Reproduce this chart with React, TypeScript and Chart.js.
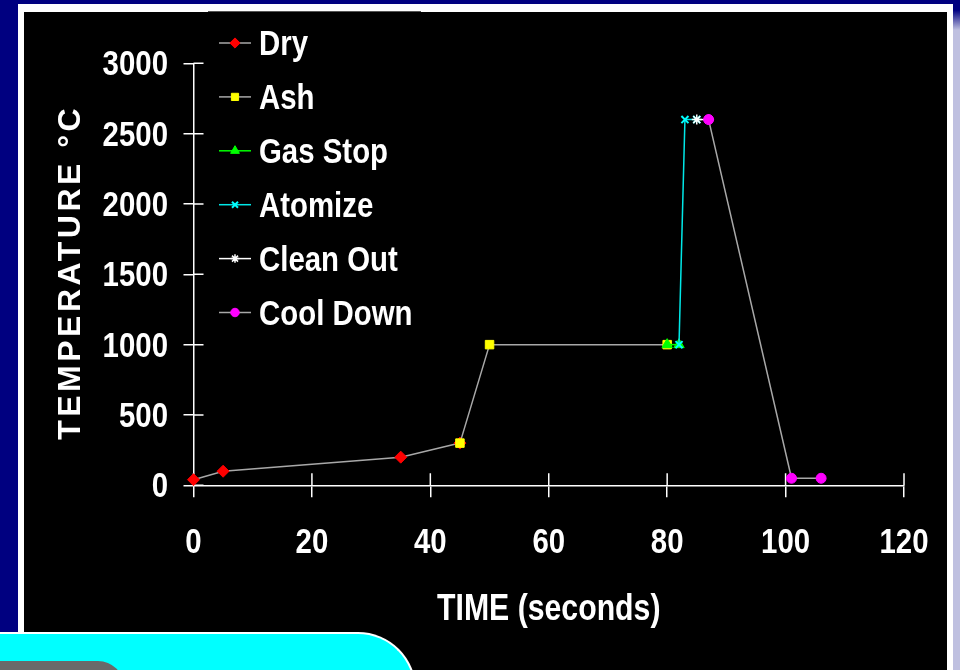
import React, { useEffect, useRef } from 'react';
import { Chart, registerables } from 'chart.js';
import { drawPoint } from 'chart.js/helpers';

Chart.register(...registerables);

// ---- data ----
const seriesNames = ['Dry', 'Ash', 'Gas Stop', 'Atomize', 'Clean Out', 'Cool Down'];
const dryTime = [0, 5, 35, 45];
const dryTemp = [40, 100, 200, 300];
const ashTime = [45, 50, 80];
const ashTemp = [300, 1000, 1000];
const gasStopTime = [80, 82];
const gasStopTemp = [1000, 1000];
const atomizeTime = [82, 83, 85];
const atomizeTemp = [1000, 2600, 2600];
const cleanOutTime = [85, 87];
const cleanOutTemp = [2600, 2600];
const coolDownTime = [87, 101, 106];
const coolDownTemp = [2600, 50, 50];
const xTickValues = [0, 20, 40, 60, 80, 100, 120];
const yTickValues = [0, 500, 1000, 1500, 2000, 2500, 3000];
const xAxisTitle = 'TIME (seconds)';
const yAxisTitle = 'TEMPERATURE °C';

const FONT = "'Liberation Sans', Arial, sans-serif";
const SX = 0.84; // narrow (condensed) look of the original bold face
const GRAY = '#a8a8a8';

const styles = [
  { line: GRAY, fill: '#ff0000', border: '#ff0000', style: 'rectRot', r: 6, bw: 1 },
  { line: GRAY, fill: '#ffff00', border: '#ffff00', style: 'rect', r: 6, bw: 1 },
  { line: '#00ff00', fill: '#00ff00', border: '#00ff00', style: 'triangle', r: 6, bw: 1 },
  { line: '#00e8e8', fill: '#00ffff', border: '#00ffff', style: 'crossRot', r: 5, bw: 2 },
  { line: '#ffffff', fill: '#ffffff', border: '#ffffff', style: 'star', r: 5, bw: 1.5 },
  { line: GRAY, fill: '#ff00ff', border: '#ff00ff', style: 'circle', r: 5, bw: 1 },
];

const xs = [dryTime, ashTime, gasStopTime, atomizeTime, cleanOutTime, coolDownTime];
const ys = [dryTemp, ashTemp, gasStopTemp, atomizeTemp, cleanOutTemp, coolDownTemp];

function narrowText(ctx: CanvasRenderingContext2D, text: string, x: number, y: number, align: CanvasTextAlign, size: number) {
  ctx.save();
  ctx.translate(x, y);
  ctx.scale(SX, 1);
  ctx.font = `bold ${size}px ${FONT}`;
  ctx.fillStyle = '#ffffff';
  ctx.textAlign = align;
  ctx.textBaseline = 'alphabetic';
  ctx.fillText(text, 0, 0);
  ctx.restore();
}

const crossTicks = {
  id: 'crossTicks',
  beforeDatasetsDraw(chart: any) {
    const { ctx, chartArea, scales } = chart;
    ctx.save();
    ctx.strokeStyle = '#ffffff';
    ctx.lineWidth = 1.5;
    ctx.beginPath();
    scales.x.ticks.forEach((t: any) => {
      const px = scales.x.getPixelForValue(t.value);
      ctx.moveTo(px, chartArea.bottom);
      ctx.lineTo(px, chartArea.bottom - 12);
    });
    scales.y.ticks.forEach((t: any) => {
      const py = scales.y.getPixelForValue(t.value);
      ctx.moveTo(chartArea.left, py);
      ctx.lineTo(chartArea.left + 10, py);
    });
    ctx.stroke();
    ctx.restore();
  },
};

const extras = {
  id: 'extras',
  afterDraw(chart: any) {
    const { ctx, chartArea, scales } = chart;
    // tick labels
    scales.x.ticks.forEach((t: any) => {
      narrowText(ctx, String(t.value), scales.x.getPixelForValue(t.value), chartArea.bottom + 68, 'center', 35);
    });
    scales.y.ticks.forEach((t: any) => {
      narrowText(ctx, String(t.value), chartArea.left - 25.5, scales.y.getPixelForValue(t.value) + 12, 'right', 35);
    });
    // x axis title
    narrowText(ctx, xAxisTitle, (chartArea.left + chartArea.right) / 2, chartArea.bottom + 135, 'center', 36);

    // y axis title
    ctx.save();
    ctx.translate(71.5, (chartArea.top + chartArea.bottom) / 2);
    ctx.rotate(-Math.PI / 2);
    ctx.font = `bold 32px ${FONT}`;
    try { (ctx as any).letterSpacing = '3.5px'; } catch (e) {}
    ctx.fillStyle = '#ffffff';
    ctx.textAlign = 'center';
    ctx.textBaseline = 'middle';
    ctx.fillText(yAxisTitle, 2, 0);
    ctx.restore();

    // legend
    ctx.save();
    const x0 = 219;
    const x1 = 251;
    const xm = 235;
    const top = 43;
    const step = 53.9;
    chart.data.datasets.forEach((ds: any, i: number) => {
      const y = top + i * step;
      ctx.strokeStyle = ds.borderColor;
      ctx.lineWidth = 1.5;
      ctx.beginPath();
      ctx.moveTo(x0, y);
      ctx.lineTo(x1, y);
      ctx.stroke();
      ctx.fillStyle = ds.pointBackgroundColor;
      ctx.strokeStyle = ds.pointBorderColor;
      ctx.lineWidth = ds.pointBorderWidth;
      drawPoint(ctx, { pointStyle: ds.pointStyle, radius: ds.pointRadius * 0.85, rotation: 0, borderWidth: ds.pointBorderWidth }, xm, y);
      narrowText(ctx, ds.label, 259, y + 12, 'left', 35);
    });
    ctx.restore();
  },
};

export default function App() {
  const ref = useRef<HTMLCanvasElement | null>(null);
  useEffect(() => {
    if (!ref.current) return;
    const datasets = seriesNames.map((name, i) => ({
      label: name,
      data: xs[i].map((t, k) => ({ x: t, y: ys[i][k] })),
      borderColor: styles[i].line,
      borderWidth: 1.5,
      pointBackgroundColor: styles[i].fill,
      pointBorderColor: styles[i].border,
      pointBorderWidth: styles[i].bw,
      pointStyle: styles[i].style,
      pointRadius: styles[i].r,
      tension: 0,
      fill: false,
      clip: false,
      order: seriesNames.length - i,
    }));
    const chart = new Chart(ref.current, {
      type: 'line',
      data: { datasets },
      options: {
        animation: false,
        responsive: false,
        devicePixelRatio: 1,
        layout: { padding: { top: 63.3, right: 56, bottom: 0, left: 0 } },
        plugins: { legend: { display: false }, tooltip: { enabled: false } },
        scales: {
          x: {
            type: 'linear',
            min: 0,
            max: 120,
            afterFit: (s: any) => { s.height = 184.7; },
            afterBuildTicks: (s: any) => { s.ticks = xTickValues.map((v) => ({ value: v })); },
            ticks: { display: false },
            grid: { drawOnChartArea: false, drawTicks: true, tickLength: 12, color: '#ffffff', lineWidth: 1.5 },
            border: { display: true, color: '#ffffff', width: 1.5 },
          },
          y: {
            type: 'linear',
            min: 0,
            max: 3000,
            afterFit: (s: any) => { s.width = 193.5; },
            afterBuildTicks: (s: any) => { s.ticks = yTickValues.map((v) => ({ value: v })); },
            ticks: { display: false },
            grid: { drawOnChartArea: false, drawTicks: true, tickLength: 10, color: '#ffffff', lineWidth: 1.5 },
            border: { display: true, color: '#ffffff', width: 1.5 },
          },
        },
      },
      plugins: [crossTicks, extras],
    } as any);
    return () => chart.destroy();
  }, []);

  return (
    <div style={{ position: 'absolute', left: 0, top: 0, width: 960, height: 670, overflow: 'hidden', background: '#000080' }}>
      <div style={{ position: 'absolute', left: 953, top: 0, width: 7, height: 670, background: 'linear-gradient(to bottom, #000080 0px, #000080 10px, #bfc0e0 30px, #bfc0e0 100%)' }} />
      <div style={{ position: 'absolute', left: 18, top: 4, width: 935, height: 666, background: '#ffffff' }} />
      <div style={{ position: 'absolute', left: 24, top: 12, width: 923, height: 658, background: '#000000' }} />
      <div style={{ position: 'absolute', left: 208, top: 11, width: 213, height: 1, background: '#555555' }} />
      <div style={{ position: 'absolute', left: -10, top: 632, width: 424, height: 120, background: '#00ffff', borderTop: '2px solid #ffffff', borderRight: '2px solid #ffffff', borderTopRightRadius: 58 }} />
      <div style={{ position: 'absolute', left: 0, top: 661, width: 124, height: 30, background: '#6a6a6a', borderTopRightRadius: 26 }} />
      <canvas ref={ref} width={960} height={670} style={{ position: 'absolute', left: 0, top: 0 }} />
    </div>
  );
}
